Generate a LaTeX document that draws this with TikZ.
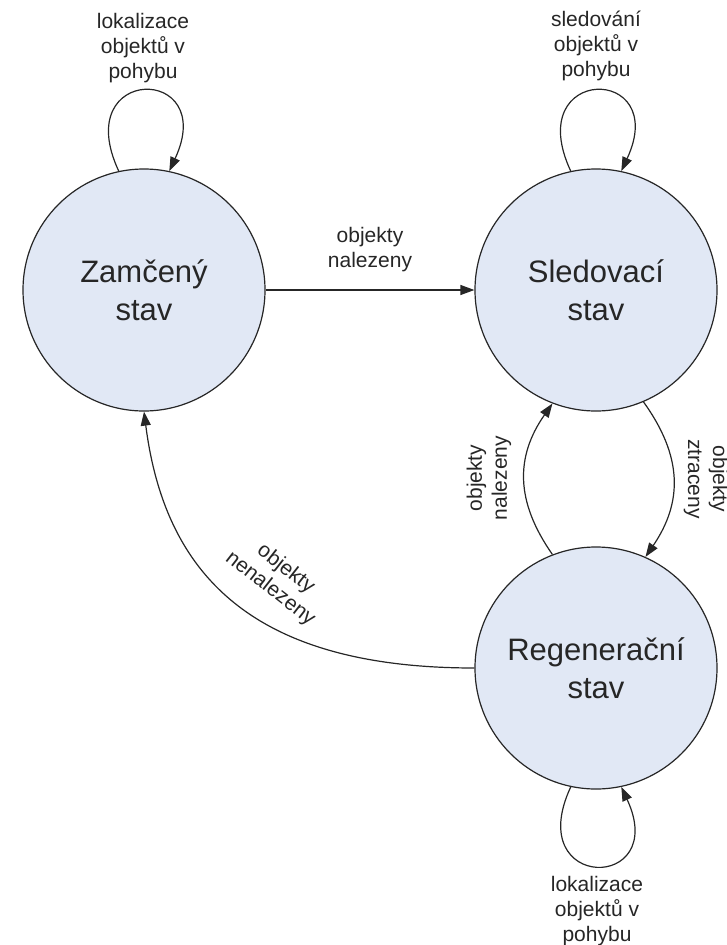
\documentclass[tikz,border=0pt]{standalone}
\usepackage{fontspec}
\setmainfont{Liberation Sans}
\usetikzlibrary{arrows.meta}
\definecolor{statefill}{RGB}{225,232,245}
\definecolor{ink}{RGB}{38,38,38}
\begin{document}
\begin{tikzpicture}[x=1pt,y=1pt,
  state/.style={circle, draw=ink, line width=1.2pt, fill=statefill, minimum size=242pt,
    inner sep=0pt, align=center, text=ink, font=\fontsize{31}{38}\selectfont},
  lbl/.style={align=center, text=ink, inner sep=0pt, font=\fontsize{21}{25}\selectfont},
  conn/.style={draw=ink, line width=1.2pt, -{Triangle[length=14pt,width=10pt]}}]
\useasboundingbox (0,0) rectangle (727,-945);

\node[state] (A) at (144,-290) {Zamčený\\stav};
\node[state] (B) at (596,-290) {Sledovací\\stav};
\node[state] (C) at (596,-668) {Regenerační\\stav};

% A -> B
\draw[conn] (A) -- node[lbl, midway, above=18pt] (lAB) {objekty\\nalezeny} (B);

% self loops
\draw[conn] (A.102) .. controls +(115:118) and +(65:118) .. (A.78);
\draw[conn] (B.102) .. controls +(115:118) and +(65:118) .. (B.78);
\draw[conn] (C.258) .. controls +(245:116) and +(295:116) .. (C.282);

\node[lbl, anchor=north] (lA) at (143,-13) {lokalizace\\objektů v\\pohybu};
\node[lbl, anchor=north] (lB) at (596,-10.5) {sledování\\objektů v\\pohybu};
\node[lbl, anchor=north] (lC) at (597,-876.5) {lokalizace\\objektů v\\pohybu};

% B <-> C
\draw[conn] (B.293) to[bend left=35, looseness=1.1] (C.66);
\draw[conn] (C.111) to[bend left=35, looseness=1.1] (B.249);
\node[lbl, rotate=-90] (lBC) at (706,-479) {objekty\\ztraceny};
\node[lbl, rotate=90] (lCB) at (489,-478) {objekty\\nalezeny};

% C -> A
\draw[conn] (C.west) .. controls +(-221,0) and +(21,-164) .. (A.south);
\node[lbl, rotate=-38] (lCA) at (278,-579) {objekty\\nenalezeny};
\end{tikzpicture}
\end{document}
